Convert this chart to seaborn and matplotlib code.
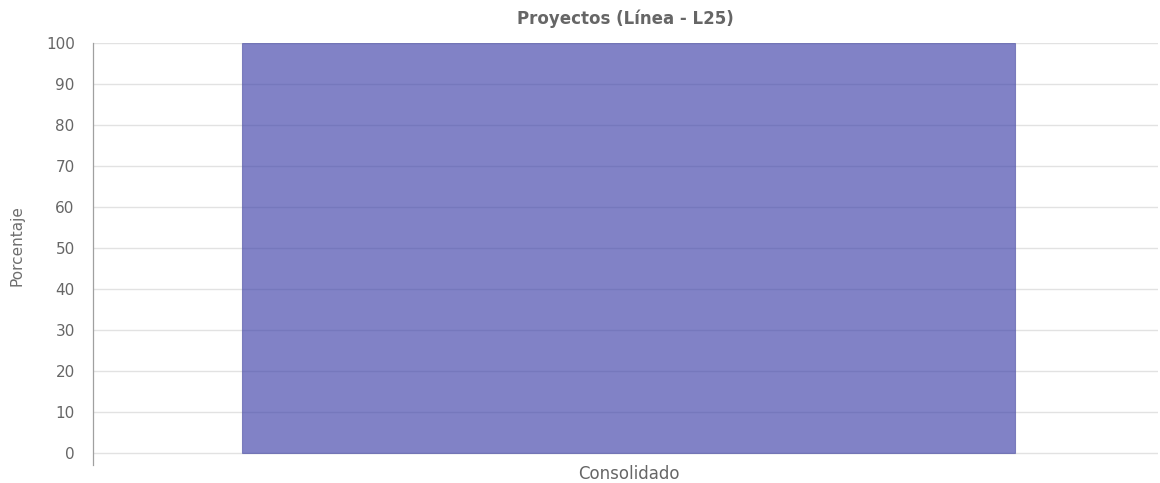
import matplotlib
matplotlib.use('Agg')
import matplotlib.pyplot as plt
import pandas as pd
import seaborn as sns

categories = ['Consolidado']
values = [100]
title = 'Proyectos (Línea - L25)'
ylabel = 'Porcentaje'

sns.set_style('white')
plt.rcParams['font.family'] = ['DejaVu Sans']

df = pd.DataFrame({'cat': categories, 'val': values})

fig = plt.figure(figsize=(11.6, 4.83), dpi=100)
ax = fig.add_axes([0.080, 0.037, 0.918, 0.874])

sns.barplot(data=df, x='cat', y='val', ax=ax, width=0.726,
            color='#3d40a8', alpha=0.65, saturation=1, edgecolor='#5558a8',
            linewidth=0.8, zorder=3)

ax.set_xlim(-0.5033, 0.4967)
ax.set_ylim(-2.9, 100)
ax.set_yticks(range(0, 101, 10))
ax.yaxis.grid(True, color='#e2e2e2', linewidth=1, zorder=0)
ax.set_axisbelow(True)
for s in ['top', 'right', 'bottom']:
    ax.spines[s].set_visible(False)
ax.spines['left'].set_color('#a0a0a0')
ax.spines['left'].set_linewidth(0.9)

ax.tick_params(axis='y', length=8, color='#e2e2e2', labelsize=11,
               labelcolor='#666666', pad=5)
ax.tick_params(axis='x', length=0, labelsize=12, labelcolor='#666666', pad=0)
ax.set_xlabel('')
ax.set_ylabel(ylabel, fontsize=11, color='#6e6e6e')
ax.yaxis.set_label_coords(-0.064, 0.519)
ax.set_title(title, fontsize=12, fontweight='bold', color='#666666', pad=14)

fig.savefig('out.png', dpi=100)
